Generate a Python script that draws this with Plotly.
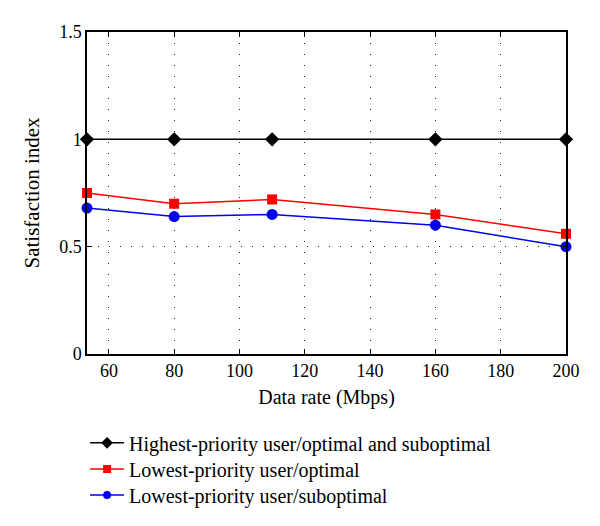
import plotly.graph_objects as go

# Data rates (Mbps) and satisfaction index per scheme
data_rate = [53.3, 80, 110, 160, 200]
highest_both = [1, 1, 1, 1, 1]
lowest_optimal = [0.75, 0.70, 0.72, 0.65, 0.56]
lowest_suboptimal = [0.68, 0.64, 0.65, 0.60, 0.50]

names = ["Highest-priority user/optimal and suboptimal",
         "Lowest-priority user/optimal",
         "Lowest-priority user/suboptimal"]
series = [highest_both, lowest_optimal, lowest_suboptimal]
colors = ["black", "#ff0000", "#0000ee"]
symbols = ["diamond", "square", "circle"]
sizes = [11, 10, 11]
legend_sizes = [9, 8, 8]
legend_ids = ["legend", "legend2", "legend3"]
legend_rows = [-0.276, -0.357, -0.438]   # one legend per row, below the axes

fig = go.Figure()

for name, ys, c, s, sz in zip(names, series, colors, symbols, sizes):
    fig.add_trace(go.Scatter(x=data_rate, y=ys, mode="lines+markers",
                             name=name, showlegend=False,
                             line=dict(color=c, width=1.5),
                             marker=dict(symbol=s, size=sz, color=c),
                             cliponaxis=False))

# legend entries with smaller symbols, as in the original
for name, c, s, sz, lg in zip(names, colors, symbols, legend_sizes, legend_ids):
    fig.add_trace(go.Scatter(x=[None], y=[None], mode="lines+markers",
                             name=name, legend=lg,
                             line=dict(color=c, width=1.5),
                             marker=dict(symbol=s, size=sz, color=c)))

font_family = "Liberation Serif, Times New Roman, serif"

# the page body adds an 8px offset, so the figure is 8px smaller
fig.update_layout(
    width=592, height=518,
    margin=dict(l=79, r=34, t=24, b=172, autoexpand=False),
    paper_bgcolor="white", plot_bgcolor="white",
    font=dict(family=font_family, size=18, color="black"),
    showlegend=True,
)
for lg, yy in zip(legend_ids, legend_rows):
    fig.update_layout({lg: dict(x=-0.004, y=yy, xanchor="left", yanchor="middle",
                                font=dict(size=20), itemwidth=34,
                                bgcolor="rgba(0,0,0,0)")})

grid = dict(showgrid=True, gridcolor="#222222", griddash="1px,10px", gridwidth=1)

fig.update_xaxes(range=[53.3, 200], tickvals=[60, 80, 100, 120, 140, 160, 180, 200],
                 ticks="inside", ticklen=5, tickcolor="black",
                 showline=True, linecolor="black", linewidth=1.5, mirror="ticks",
                 zeroline=False, **grid,
                 title=dict(text="Data rate (Mbps)", font=dict(size=20), standoff=10),
                 tickfont=dict(size=18))
fig.update_yaxes(range=[0, 1.5], tickvals=[0, 0.5, 1, 1.5], ticktext=["0", "0.5", "1", "1.5"],
                 ticks="inside", ticklen=5, tickcolor="black",
                 showline=True, linecolor="black", linewidth=1.5, mirror="ticks",
                 zeroline=False, **grid,
                 title=dict(text="Satisfaction index", font=dict(size=21), standoff=14),
                 tickfont=dict(size=18))

fig.write_html("out.html")
